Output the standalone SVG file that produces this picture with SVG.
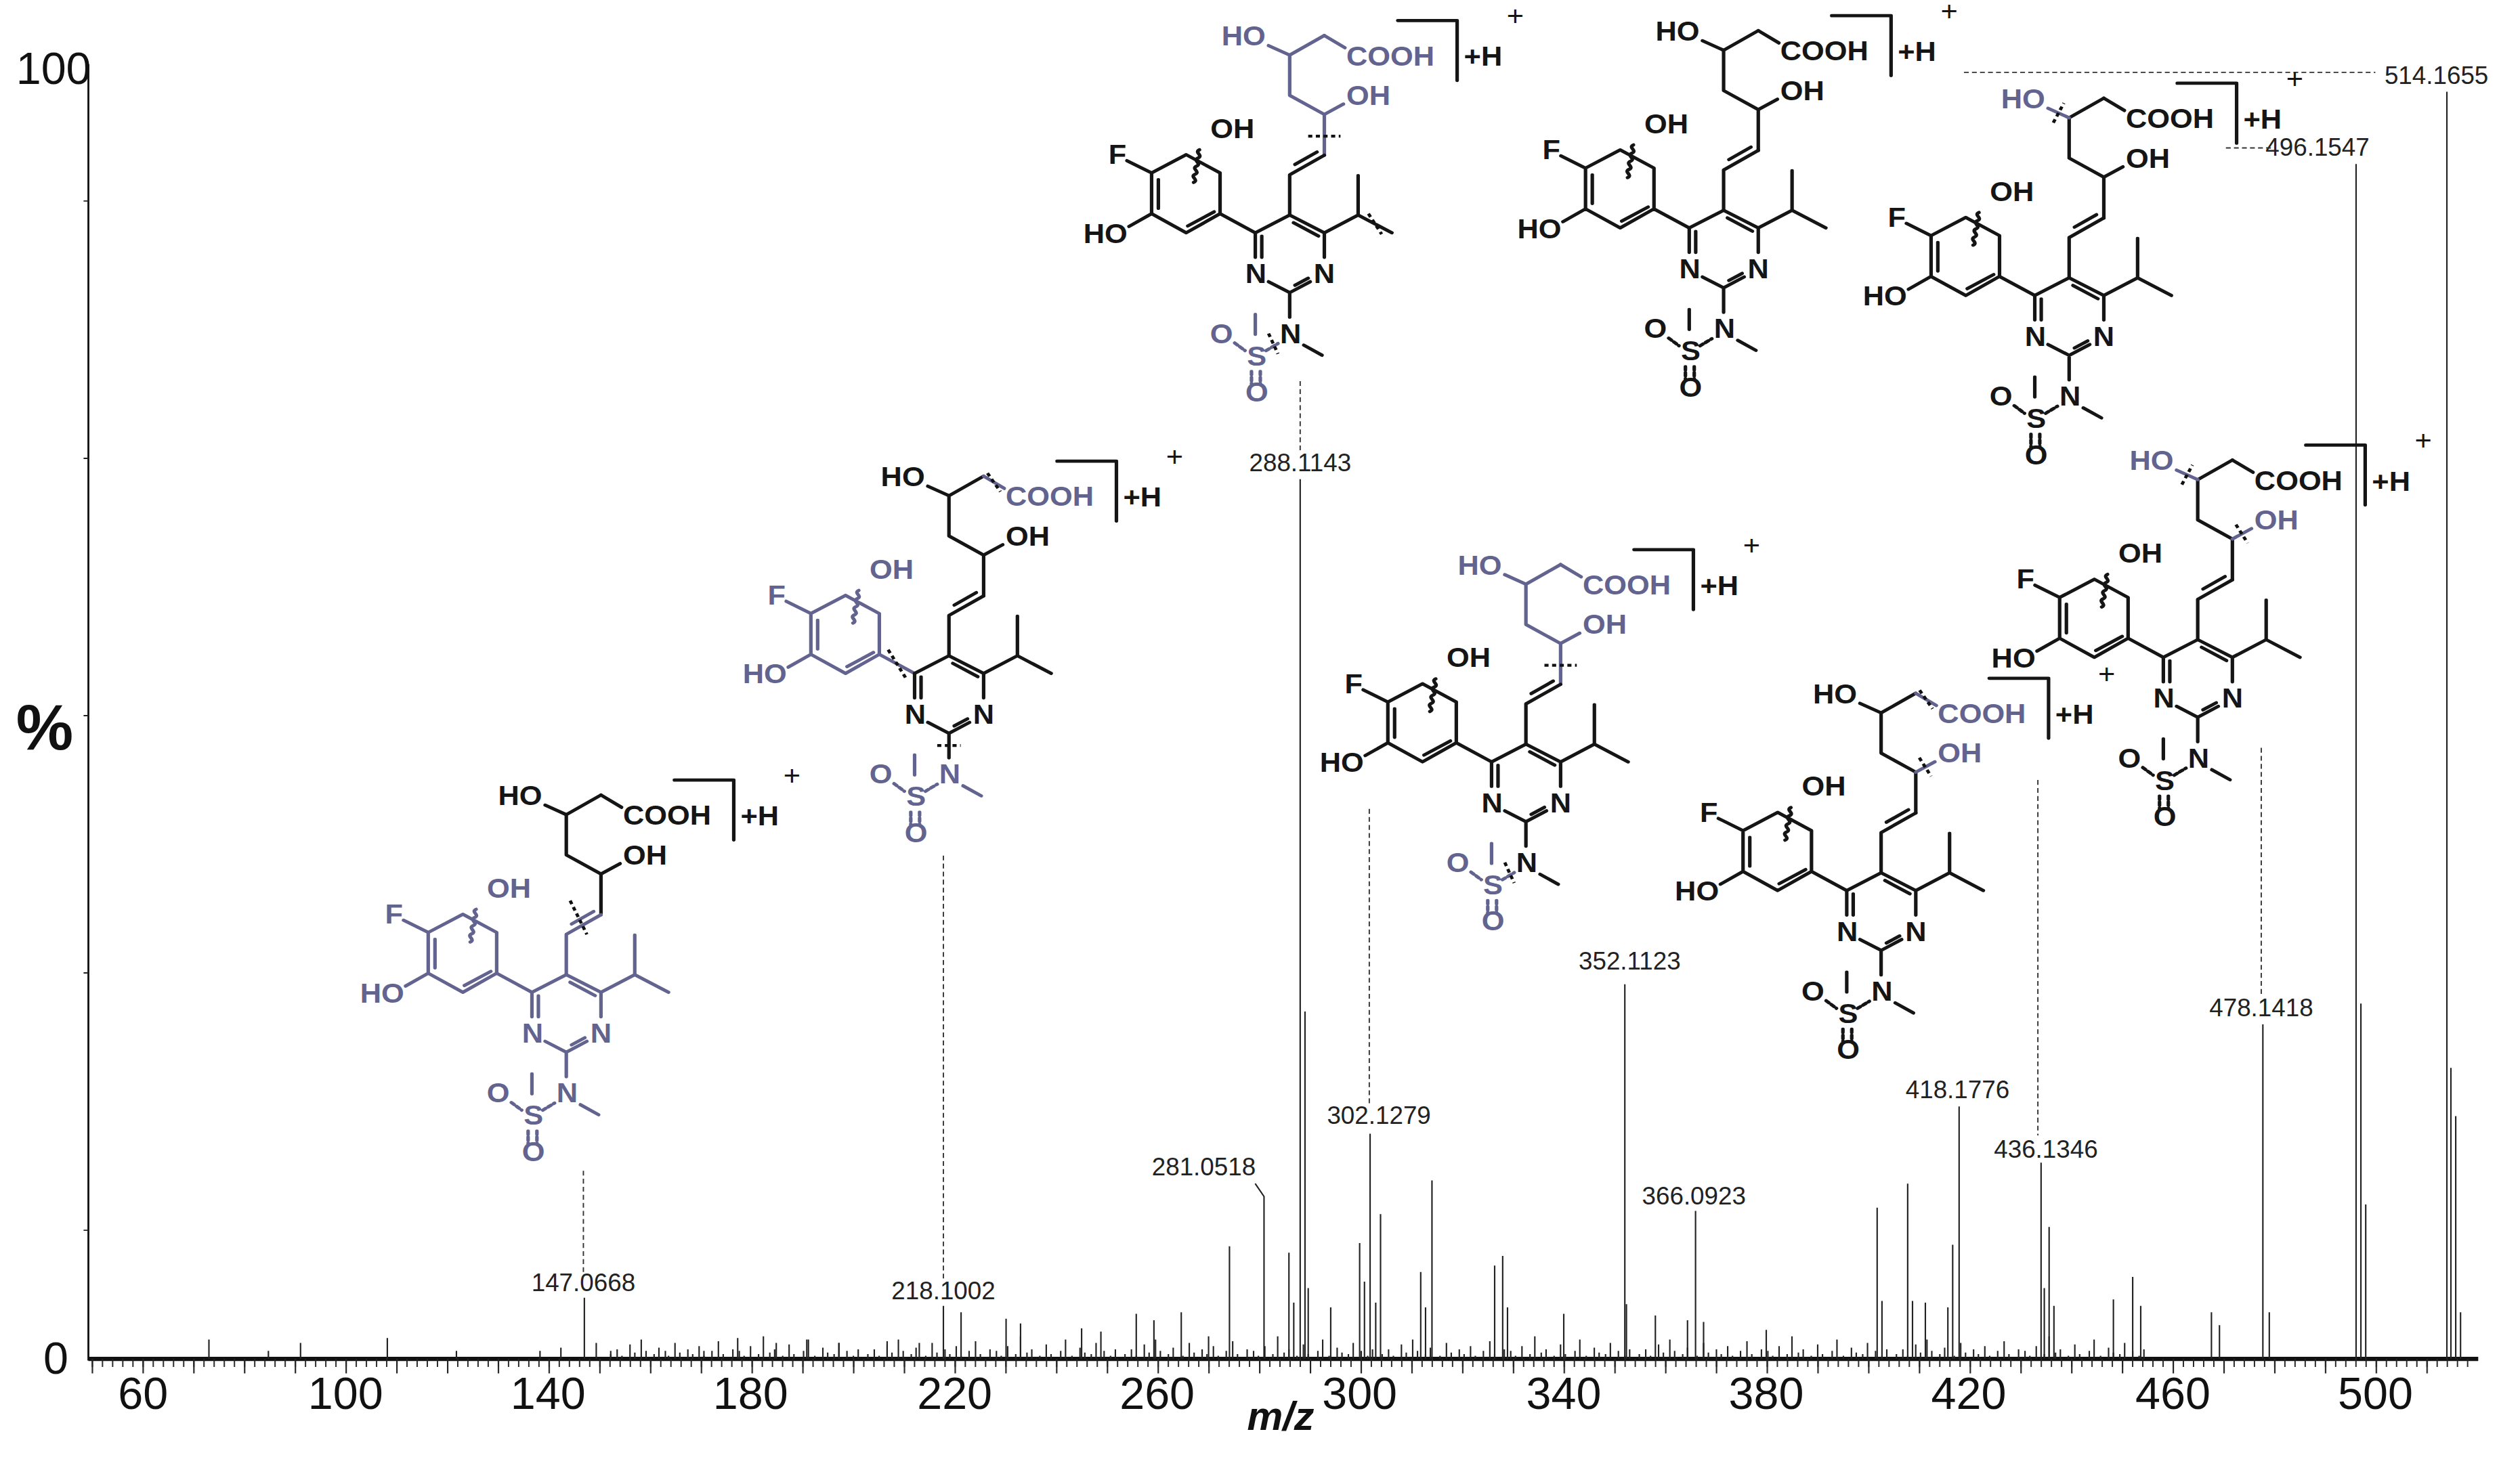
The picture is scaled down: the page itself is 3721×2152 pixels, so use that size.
<svg xmlns="http://www.w3.org/2000/svg" xmlns:xlink="http://www.w3.org/1999/xlink" width="3721" height="2152" viewBox="0 0 3721 2152">
<style>
.bd{fill:none;stroke:currentColor;stroke-width:12;stroke-linecap:round;stroke-linejoin:round}
.B{color:#151515;fill:#151515}
.G{color:#63638f;fill:#63638f}
.t{font-family:"Liberation Sans",Arial,sans-serif;font-weight:bold;font-size:100px}
.m{text-anchor:middle}
.pl{font-family:"Liberation Sans",Arial,sans-serif;font-size:100px}
.cut{fill:none;stroke:#111;stroke-width:11;stroke-dasharray:14 12}
.pk{stroke:#222;stroke-width:0.9;fill:none}
.ds{stroke:#333;stroke-width:0.8;stroke-dasharray:3 2;fill:none}
.lb{font-family:"Liberation Sans",Arial,sans-serif;font-size:15.5px;fill:#222;text-anchor:middle}
.ax{font-family:"Liberation Sans",Arial,sans-serif;font-size:28px;fill:#111}
</style>
<defs>
<g id="p-scm"><path class="bd" d="M752,232 L870,160 M752,232 L752,380 L870,450 L870,600"/></g>
<g id="p-ho"><path class="bd" d="M680,197 L752,232"/></g>
<g id="p-cooh"><path class="bd" d="M870,160 L940,205"/></g>
<g id="p-oh"><path class="bd" d="M870,450 L935,412"/></g>
<g id="p-vin"><path class="bd" d="M870,600 L752,672 L752,820 M845,588 L770,634"/></g>
<g id="p-ar"><path class="bd" d="M400,598 L515,665 L515,815 L400,885 L282,815 L282,665 Z M305,690 L305,795 M405,860 L495,808 M282,665 L198,620 M282,815 L205,862 M515,815 L635,885 M425,700 c20,-10 -15,-20 5,-30 c20,-10 -15,-20 5,-30 c20,-10 -15,-20 5,-30 c20,-10 -15,-20 5,-30"/></g>
<g id="p-py"><path class="bd" d="M635,885 L752,820 L870,885 L870,975 M765,848 L850,897 M635,885 L635,975 M657,898 L657,975 M680,1065 L752,1105 L822,1065 M770,1078 L815,1052 M870,885 L985,820 L985,675 M985,820 L1100,885 M752,1105 L752,1195"/></g>
<g id="p-nm"><path class="bd" d="M800,1298 L862,1335"/></g>
<g id="p-su"><path class="bd" d="M635,1185 L635,1258"/><path class="bd" stroke-dasharray="12 10" d="M565,1290 L600,1318 M672,1318 L712,1292 M622,1395 L622,1440 M652,1395 L652,1440"/></g>
<g id="p-br"><path class="bd" stroke-width="16" d="M1120,105 H1322 V325"/></g>
<pattern id="tk" patternUnits="userSpaceOnUse" x="57.05" y="0" width="6.316" height="20"><rect x="0" y="0" width="0.8" height="20" fill="#222"/></pattern>
<pattern id="tkM" patternUnits="userSpaceOnUse" x="57.05" y="0" width="31.58" height="20"><rect x="0" y="0" width="0.9" height="20" fill="#222"/></pattern>
</defs>
<rect width="3721" height="2152" fill="#fff"/>
<g transform="scale(2.3731,2.3753)">
<g id="axes">
<path d="M55,40 V846" stroke="#111" stroke-width="1.2"/>
<path d="M55,845 H1542" stroke="#111" stroke-width="2.6"/>
<rect x="55" y="845" width="1485" height="5" fill="url(#tk)"/>
<rect x="55" y="845" width="1485" height="9" fill="url(#tkM)"/>
<path d="M52,125 h3 M52,285 h3 M52,445 h3 M52,605 h3 M52,765 h3" stroke="#222" stroke-width="0.8"/>
<text class="ax" x="10" y="52">100</text>
<text class="ax" x="27" y="854">0</text>
<text x="10" y="466" font-family="Liberation Sans,Arial,sans-serif" font-weight="bold" font-size="40" fill="#111">%</text>
<g class="ax" text-anchor="middle">
<text x="89" y="876">60</text><text x="215" y="876">100</text><text x="341" y="876">140</text><text x="467" y="876">180</text><text x="594" y="876">220</text><text x="720" y="876">260</text><text x="846" y="876">300</text><text x="973" y="876">340</text><text x="1099" y="876">380</text><text x="1225" y="876">420</text><text x="1352" y="876">460</text><text x="1478" y="876">500</text>
</g>
<text x="776" y="889" font-family="Liberation Sans,Arial,sans-serif" font-weight="bold" font-style="italic" font-size="25" fill="#111">m/z</text>
</g>
<g id="peaks">
<path class="pk" stroke-width="0.6" d="M380,845 v-3m4,3v-6m3,6v-2m5,2v-9m3,9v-4m4,4v-12m3,12v-5m5,5v-3m3,3v-7m6,7v-2m4,2v-10m3,10v-4m5,4v-6m3,6v-3m4,3v-8m3,8v-2m5,2v-5m4,5v-11m3,11v-3m6,3v-6m4,6v-5m3,5v-2m4,2v-8m5,8v-3m3,3v-14m4,14v-4m3,4v-6m5,6v-2m4,2v-9m3,9v-3m6,3v-5m3,5v-12m4,12v-2m5,2v-7m3,7v-4m4,4v-3m3,3v-10m5,10v-5m4,5v-2m3,2v-6m6,6v-3m4,3v-6m3,6v-2m5,2v-9m3,9v-4m4,4v-12m3,12v-5m5,5v-3m3,3v-7m6,7v-2m4,2v-10m3,10v-4m5,4v-6m3,6v-3m4,3v-8m3,8v-2m5,2v-5m4,5v-11m3,11v-3m6,3v-6m4,6v-5m3,5v-2m4,2v-8m5,8v-3m3,3v-14m4,14v-4m3,4v-6m5,6v-2m4,2v-9m3,9v-3m6,3v-5m3,5v-12m4,12v-2m5,2v-7m3,7v-4m4,4v-3m3,3v-10m5,10v-5m4,5v-2m3,2v-6m6,6v-3m4,3v-6m3,6v-2m5,2v-9m3,9v-4m4,4v-12m3,12v-5m5,5v-3m3,3v-7m6,7v-2m4,2v-10m3,10v-4m5,4v-6m3,6v-3m4,3v-8m3,8v-2m5,2v-5m4,5v-11m3,11v-3m6,3v-6m4,6v-5m3,5v-2m4,2v-8m5,8v-3m3,3v-14m4,14v-4m3,4v-6m5,6v-2m4,2v-9m3,9v-3m6,3v-5m3,5v-12m4,12v-2m5,2v-7m3,7v-4m4,4v-3m3,3v-10m5,10v-5m4,5v-2m3,2v-6m6,6v-3m4,3v-6m3,6v-2m5,2v-9m3,9v-4m4,4v-12m3,12v-5m5,5v-3m3,3v-7m6,7v-2m4,2v-10m3,10v-4m5,4v-6m3,6v-3m4,3v-8m3,8v-2m5,2v-5m4,5v-11m3,11v-3m6,3v-6m4,6v-5m3,5v-2m4,2v-8m5,8v-3m3,3v-14m4,14v-4m3,4v-6m5,6v-2m4,2v-9m3,9v-3m6,3v-5m3,5v-12m4,12v-2m5,2v-7m3,7v-4m4,4v-3m3,3v-10m5,10v-5m4,5v-2m3,2v-6m6,6v-3m4,3v-6m3,6v-2m5,2v-9m3,9v-4m4,4v-12m3,12v-5m5,5v-3m3,3v-7m6,7v-2m4,2v-10m3,10v-4m5,4v-6m3,6v-3m4,3v-8m3,8v-2m5,2v-5m4,5v-11m3,11v-3m6,3v-6m4,6v-5m3,5v-2m4,2v-8m5,8v-3m3,3v-14m4,14v-4m3,4v-6m5,6v-2m4,2v-9m3,9v-3m6,3v-5m3,5v-12m4,12v-2m5,2v-7m3,7v-4m4,4v-3m3,3v-10m5,10v-5m4,5v-2m3,2v-6m6,6v-3m4,3v-6m3,6v-2m5,2v-9m3,9v-4m4,4v-12m3,12v-5m5,5v-3m3,3v-7m6,7v-2m4,2v-10m3,10v-4m5,4v-6m3,6v-3m4,3v-8m3,8v-2m5,2v-5m4,5v-11m3,11v-3m6,3v-6m4,6v-5m3,5v-2m4,2v-8m5,8v-3m3,3v-14m4,14v-4m3,4v-6m5,6v-2m4,2v-9m3,9v-3m6,3v-5m3,5v-12m4,12v-2m5,2v-7m3,7v-4m4,4v-3m3,3v-10m5,10v-5m4,5v-2m3,2v-6m6,6"/>
<path class="pk" d="M130,845V833 M167,845V840 M187,845V835 M241,845V832 M284,845V840 M336,845V840 M349,845V838 M371,845V835 M380,845V840 M414,845V840 M438,845V840 M459,845V832 M483,845V835 M502,845V833 M522,845V835 M552,845V834 M572,845V835 M598,845V816 M626,845V820 M635,845V823 M673,845V826 M685,845V828 M707,845V817 M718,845V821 M735,845V816 M752,845V831 M765,845V775 M802,845V779 M805,845V810 M814,845V801 M828,845V813 M846,845V773 M849,845V797 M856,845V810 M859,845V755 M884,845V791 M887,845V813 M891,845V734 M930,845V787 M935,845V781 M938,845V813 M973,845V817 M1012,845V811 M1030,845V818 M1050,845V821 M1060,845V822 M1099,845V827 M1168,845V751 M1171,845V809 M1187,845V736 M1190,845V809 M1198,845V810 M1212,845V813 M1215,845V774 M1272,845V801 M1275,845V763 M1278,845V812 M1315,845V808 M1327,845V794 M1332,845V812 M1376,845V816 M1381,845V824 M1412,845V816 M1469,845V624 M1472,845V749 M1525,845V664 M1528,845V694 M1531,845V816"/>
<path class="pk" d="M363.6,845V807 M587,845V812 M781,736 L786.5,744 V845 M809,845V298 M812,845V629 M852.5,845V705 M1011,845V612 M1055,845V753 M1219,845V688 M1270,845V723 M1408,845V637 M1466,845V102 M1522.5,845V57"/>
</g>
<g id="labels">
<text class="lb" x="363" y="803">147.0668</text>
<text class="lb" x="587" y="808">218.1002</text>
<text class="lb" x="749" y="731">281.0518</text>
<text class="lb" x="809" y="293">288.1143</text>
<text class="lb" x="858" y="699">302.1279</text>
<text class="lb" x="1014" y="603">352.1123</text>
<text class="lb" x="1054" y="749">366.0923</text>
<text class="lb" x="1218" y="683">418.1776</text>
<text class="lb" x="1273" y="720">436.1346</text>
<text class="lb" x="1407" y="632">478.1418</text>
<text class="lb" x="1442" y="97">496.1547</text>
<text class="lb" x="1516" y="52">514.1655</text>
</g>
<g id="connectors">
<path class="ds" d="M363,728 V792 M587,532 V795 M809,237 V280 M852,503 V686 M1268,485 V706 M1407,465 V619 M1222,45 H1478 M1385,92 H1414"/>
</g>

<g id="mol1" transform="translate(214.9,467.3) scale(0.1828,0.1692)">
<use href="#p-scm" class="B"/><use href="#p-ho" class="B"/><use href="#p-cooh" class="B"/><use href="#p-oh" class="B"/><use href="#p-vin" class="G"/><use href="#p-ar" class="G"/><use href="#p-py" class="G"/><use href="#p-nm" class="G"/><use href="#p-su" class="G"/><use href="#p-br" class="B"/>
<path class="cut" d="M765,548 L822,672"/>
<text class="t B" x="520" y="197">HO</text><text class="t B" x="945" y="270">COOH</text><text class="t B" x="945" y="415">OH</text>
<text class="t G" x="135" y="632">F</text><text class="t G" x="482" y="537">OH</text><text class="t G" x="50" y="922">HO</text>
<text class="t G m" x="637" y="1070">N</text><text class="t G m" x="870" y="1070">N</text><text class="t G m" x="755" y="1290">N</text>
<text class="t G m" x="520" y="1290">O</text><text class="t G m" x="640" y="1372">S</text><text class="t G m" x="640" y="1505">O</text>
<text class="t B" x="1345" y="272" font-size="118">+H</text><text class="pl B m" x="1520" y="125">+</text>
</g>

<g id="mol2" transform="translate(453,269) scale(0.1828,0.1692)">
<use href="#p-scm" class="B"/><use href="#p-ho" class="B"/><use href="#p-cooh" class="G"/><use href="#p-oh" class="B"/><use href="#p-vin" class="B"/><use href="#p-ar" class="G"/><use href="#p-py" class="B"/><use href="#p-nm" class="G"/><use href="#p-su" class="G"/><use href="#p-br" class="B"/>
<path class="cut" d="M545,798 L605,902 M712,1150 L792,1150 M883,149 L927,217"/>
<text class="t B" x="520" y="197">HO</text><text class="t G" x="945" y="270">COOH</text><text class="t B" x="945" y="415">OH</text>
<text class="t G" x="135" y="632">F</text><text class="t G" x="482" y="537">OH</text><text class="t G" x="50" y="922">HO</text>
<text class="t B m" x="637" y="1070">N</text><text class="t B m" x="870" y="1070">N</text><text class="t G m" x="755" y="1290">N</text>
<text class="t G m" x="520" y="1290">O</text><text class="t G m" x="640" y="1372">S</text><text class="t G m" x="640" y="1505">O</text>
<text class="t B" x="1345" y="272" font-size="118">+H</text><text class="pl B m" x="1520" y="125">+</text>
</g>

<g id="mol3" transform="translate(665,-5) scale(0.1828,0.1692)">
<use href="#p-scm" class="G"/><use href="#p-ho" class="G"/><use href="#p-cooh" class="G"/><use href="#p-oh" class="G"/><use href="#p-vin" class="B"/><use href="#p-ar" class="B"/><use href="#p-py" class="B"/><use href="#p-nm" class="B"/><use href="#p-su" class="G"/><use href="#p-br" class="B"/>
<path class="cut" d="M815,530 L925,530 M1020,815 L1065,890 M680,1255 L712,1330"/>
<text class="t G" x="520" y="197">HO</text><text class="t G" x="945" y="270">COOH</text><text class="t G" x="945" y="415">OH</text>
<text class="t B" x="135" y="632">F</text><text class="t B" x="482" y="537">OH</text><text class="t B" x="50" y="922">HO</text>
<text class="t B m" x="637" y="1070">N</text><text class="t B m" x="870" y="1070">N</text><text class="t B m" x="755" y="1290">N</text>
<text class="t G m" x="520" y="1290">O</text><text class="t G m" x="640" y="1372">S</text><text class="t G m" x="640" y="1505">O</text>
<text class="t B" x="1345" y="272" font-size="118">+H</text><text class="pl B m" x="1520" y="125">+</text>
</g>

<g id="mol4" transform="translate(812,324) scale(0.1828,0.1692)">
<use href="#p-scm" class="G"/><use href="#p-ho" class="G"/><use href="#p-cooh" class="G"/><use href="#p-oh" class="G"/><use href="#p-vin" class="B"/><use href="#p-ar" class="B"/><use href="#p-py" class="B"/><use href="#p-nm" class="B"/><use href="#p-su" class="G"/><use href="#p-br" class="B"/>
<path class="cut" d="M815,530 L925,530 M680,1255 L712,1330"/>
<text class="t G" x="520" y="197">HO</text><text class="t G" x="945" y="270">COOH</text><text class="t G" x="945" y="415">OH</text>
<text class="t B" x="135" y="632">F</text><text class="t B" x="482" y="537">OH</text><text class="t B" x="50" y="922">HO</text>
<text class="t B m" x="637" y="1070">N</text><text class="t B m" x="870" y="1070">N</text><text class="t B m" x="755" y="1290">N</text>
<text class="t G m" x="520" y="1290">O</text><text class="t G m" x="640" y="1372">S</text><text class="t G m" x="640" y="1505">O</text>
<text class="t B" x="1345" y="272" font-size="118">+H</text><text class="pl B m" x="1520" y="125">+</text>
</g>

<g id="mol5" transform="translate(935,-8) scale(0.1828,0.1692)">
<use href="#p-scm" class="B"/><use href="#p-ho" class="B"/><use href="#p-cooh" class="B"/><use href="#p-oh" class="B"/><use href="#p-vin" class="B"/><use href="#p-ar" class="B"/><use href="#p-py" class="B"/><use href="#p-nm" class="B"/><use href="#p-su" class="B"/><use href="#p-br" class="B"/>
<text class="t B" x="520" y="197">HO</text><text class="t B" x="945" y="270">COOH</text><text class="t B" x="945" y="415">OH</text>
<text class="t B" x="135" y="632">F</text><text class="t B" x="482" y="537">OH</text><text class="t B" x="50" y="922">HO</text>
<text class="t B m" x="637" y="1070">N</text><text class="t B m" x="870" y="1070">N</text><text class="t B m" x="755" y="1290">N</text>
<text class="t B m" x="520" y="1290">O</text><text class="t B m" x="640" y="1372">S</text><text class="t B m" x="640" y="1505">O</text>
<text class="t B" x="1345" y="272" font-size="118">+H</text><text class="pl B m" x="1520" y="125">+</text>
</g>

<g id="mol6" transform="translate(1150,34) scale(0.1828,0.1692)">
<use href="#p-scm" class="B"/><use href="#p-ho" class="G"/><use href="#p-cooh" class="B"/><use href="#p-oh" class="B"/><use href="#p-vin" class="B"/><use href="#p-ar" class="B"/><use href="#p-py" class="B"/><use href="#p-nm" class="B"/><use href="#p-su" class="B"/><use href="#p-br" class="B"/>
<path class="cut" d="M698,250 L734,178"/>
<text class="t G" x="520" y="197">HO</text><text class="t B" x="945" y="270">COOH</text><text class="t B" x="945" y="415">OH</text>
<text class="t B" x="135" y="632">F</text><text class="t B" x="482" y="537">OH</text><text class="t B" x="50" y="922">HO</text>
<text class="t B m" x="637" y="1070">N</text><text class="t B m" x="870" y="1070">N</text><text class="t B m" x="755" y="1290">N</text>
<text class="t B m" x="520" y="1290">O</text><text class="t B m" x="640" y="1372">S</text><text class="t B m" x="640" y="1505">O</text>
<text class="t B" x="1345" y="272" font-size="118">+H</text><text class="pl B m" x="1520" y="125">+</text>
</g>

<g id="mol7" transform="translate(1033,404) scale(0.1828,0.1692)">
<use href="#p-scm" class="B"/><use href="#p-ho" class="B"/><use href="#p-cooh" class="G"/><use href="#p-oh" class="G"/><use href="#p-vin" class="B"/><use href="#p-ar" class="B"/><use href="#p-py" class="B"/><use href="#p-nm" class="B"/><use href="#p-su" class="B"/><use href="#p-br" class="B"/>
<path class="cut" d="M883,149 L927,217 M882,397 L922,465"/>
<text class="t B" x="520" y="197">HO</text><text class="t G" x="945" y="270">COOH</text><text class="t G" x="945" y="415">OH</text>
<text class="t B" x="135" y="632">F</text><text class="t B" x="482" y="537">OH</text><text class="t B" x="50" y="922">HO</text>
<text class="t B m" x="637" y="1070">N</text><text class="t B m" x="870" y="1070">N</text><text class="t B m" x="755" y="1290">N</text>
<text class="t B m" x="520" y="1290">O</text><text class="t B m" x="640" y="1372">S</text><text class="t B m" x="640" y="1505">O</text>
<text class="t B" x="1345" y="272" font-size="118">+H</text><text class="pl B m" x="1520" y="125">+</text>
</g>

<g id="mol8" transform="translate(1230,259) scale(0.1828,0.1692)">
<use href="#p-scm" class="B"/><use href="#p-ho" class="G"/><use href="#p-cooh" class="B"/><use href="#p-oh" class="G"/><use href="#p-vin" class="B"/><use href="#p-ar" class="B"/><use href="#p-py" class="B"/><use href="#p-nm" class="B"/><use href="#p-su" class="B"/><use href="#p-br" class="B"/>
<path class="cut" d="M698,250 L734,178 M882,397 L922,465"/>
<text class="t G" x="520" y="197">HO</text><text class="t B" x="945" y="270">COOH</text><text class="t G" x="945" y="415">OH</text>
<text class="t B" x="135" y="632">F</text><text class="t B" x="482" y="537">OH</text><text class="t B" x="50" y="922">HO</text>
<text class="t B m" x="637" y="1070">N</text><text class="t B m" x="870" y="1070">N</text><text class="t B m" x="755" y="1290">N</text>
<text class="t B m" x="520" y="1290">O</text><text class="t B m" x="640" y="1372">S</text><text class="t B m" x="640" y="1505">O</text>
<text class="t B" x="1345" y="272" font-size="118">+H</text><text class="pl B m" x="1520" y="125">+</text>
</g>
</g>
</svg>
